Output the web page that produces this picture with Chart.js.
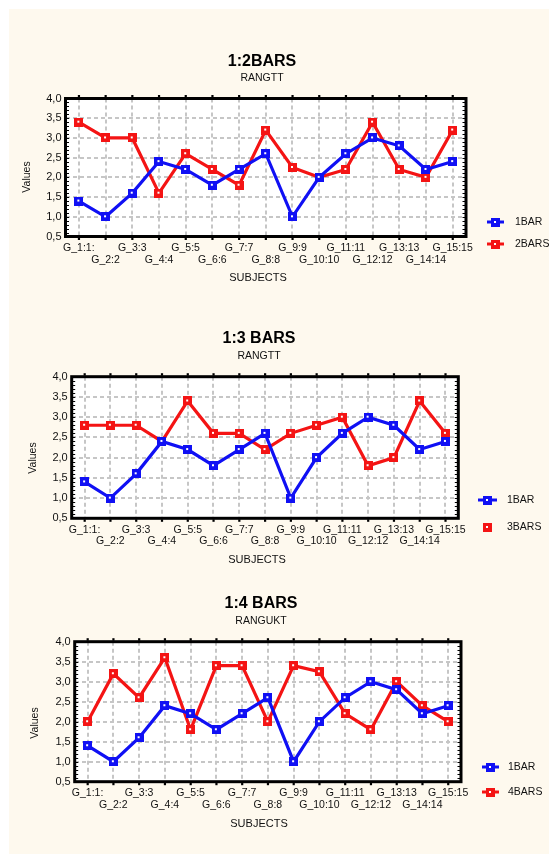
<!DOCTYPE html>
<html>
<head>
<meta charset="utf-8">
<title>Rangs par sujet</title>
<script src="https://cdn.jsdelivr.net/npm/chart.js@4/dist/chart.umd.min.js"></script>
<style>
  html, body { margin: 0; padding: 0; background: #ffffff; }
  #page { position: absolute; left: 9px; top: 9px; width: 540px; height: 845px; background: #fef9ee; }
  canvas { position: absolute; left: 0; }
</style>
</head>
<body>
<div id="page"></div>
<canvas id="c1" width="549" height="270" style="top:20px"></canvas>
<canvas id="c2" width="549" height="275" style="top:290px"></canvas>
<canvas id="c3" width="549" height="297" style="top:565px"></canvas>
<script>
// Subjects on the x axis
const subjects = ['G_1:1:', 'G_2:2', 'G_3:3', 'G_4:4', 'G_5:5', 'G_6:6', 'G_7:7', 'G_8:8',
                  'G_9:9', 'G_10:10', 'G_11:11', 'G_12:12', 'G_13:13', 'G_14:14', 'G_15:15'];

// Mean rank per subject for each condition
const oneBar    = [1.4, 1.0, 1.6, 2.4, 2.2, 1.8, 2.2, 2.6, 1.0, 2.0, 2.6, 3.0, 2.8, 2.2, 2.4];
const twoBars   = [3.4, 3.0, 3.0, 1.6, 2.6, 2.2, 1.8, 3.2, 2.25, 2.0, 2.2, 3.4, 2.2, 2.0, 3.2];
const threeBars = [2.8, 2.8, 2.8, 2.4, 3.4, 2.6, 2.6, 2.2, 2.6, 2.8, 3.0, 1.8, 2.0, 3.4, 2.6];
const fourBars  = [2.0, 3.2, 2.6, 3.6, 1.8, 3.4, 3.4, 2.0, 3.4, 3.25, 2.2, 1.8, 3.0, 2.4, 2.0];

// Value axis range and step
const yMin = 0.5;
const yMax = 4.0;
const yStep = 0.5;

const FONT = "'Liberation Sans', Arial, Helvetica, sans-serif";
const BLUE = '#1010f4';
const RED = '#f41414';

// Square marker with a small white centre
function marker(color, size) {
  const c = document.createElement('canvas');
  c.width = size; c.height = size;
  const g = c.getContext('2d');
  g.fillStyle = color;
  g.fillRect(0, 0, size, size);
  g.fillStyle = '#ffffff';
  const h = Math.floor((size - 2) / 2);
  g.fillRect(h, h, 2, 2);
  return c;
}

// Plot background, frame, edge ticks, titles and legend
const decor = {
  id: 'decor',
  beforeDraw(chart) {
    const { ctx, chartArea: a } = chart;
    ctx.save();
    ctx.fillStyle = '#ffffff';
    ctx.fillRect(a.left, a.top, a.right - a.left, a.bottom - a.top);
    ctx.restore();
  },
  afterDraw(chart, args, o) {
    const { ctx, chartArea: a, scales } = chart;
    const dy = o.top;
    ctx.save();

    // minor ticks along the left and right edges
    ctx.strokeStyle = '#000000';
    ctx.lineWidth = 1;
    const ys = scales.y;
    for (let k = 0; k <= Math.round((ys.max - ys.min) * 10); k++) {
      const py = Math.round(ys.getPixelForValue(ys.min + k / 10)) + 0.5;
      ctx.beginPath();
      ctx.moveTo(a.left, py); ctx.lineTo(a.left + 3.5, py);
      ctx.moveTo(a.right, py); ctx.lineTo(a.right - 3.5, py);
      ctx.stroke();
    }

    // frame
    ctx.lineWidth = 3;
    ctx.strokeRect(a.left, a.top, a.right - a.left, a.bottom - a.top);

    // category ticks outside the top and bottom edges
    ctx.fillStyle = '#000000';
    const xs = scales.x;
    xs.ticks.forEach((t, i) => {
      const px = xs.getPixelForTick(i);
      ctx.fillRect(px - 1, a.top - 3.5, 2.2, 2.5);
      ctx.fillRect(px - 1, a.bottom + 1, 2.2, 2.5);
    });

    // titles
    ctx.fillStyle = '#000000';
    ctx.textAlign = 'center';
    ctx.textBaseline = 'middle';
    ctx.font = 'bold 16px ' + FONT;
    ctx.fillText(o.title, o.cx, o.titleY - dy);
    ctx.font = '10.5px ' + FONT;
    ctx.fillStyle = '#111111';
    ctx.fillText(o.subtitle, o.cx, o.subY - dy);

    // axis titles
    ctx.font = '11px ' + FONT;
    ctx.fillText('SUBJECTS', o.subjectsX, o.subjectsY - dy);
    ctx.save();
    ctx.translate(o.valuesX, o.valuesY - dy);
    ctx.rotate(-Math.PI / 2);
    ctx.font = '10.5px ' + FONT;
    ctx.fillText('Values', 0, 0);
    ctx.restore();

    // legend
    ctx.textAlign = 'left';
    ctx.font = '10.5px ' + FONT;
    chart.data.datasets.forEach((ds, i) => {
      const ly = o.legendY[i] - dy;
      const mid = (o.iconX[0] + o.iconX[1]) / 2;
      if (!(o.noLine && o.noLine[i])) {
        ctx.strokeStyle = ds.borderColor;
        ctx.lineWidth = 3;
        ctx.beginPath();
        ctx.moveTo(o.iconX[0], ly);
        ctx.lineTo(o.iconX[1], ly);
        ctx.stroke();
      }
      const m = ds.pointStyle;
      ctx.drawImage(m, Math.round(mid - m.width / 2), Math.round(ly - m.height / 2));
      ctx.fillStyle = '#111111';
      ctx.fillText(ds.label, o.textX, ly + 0.5);
    });

    ctx.restore();
  }
};

function makeChart(id, layout, series) {
  const canvas = document.getElementById(id);
  const W = canvas.width, H = canvas.height;
  const a = layout.area;
  const xAxisH = 30;
  return new Chart(canvas, {
    type: 'line',
    data: {
      labels: subjects,
      datasets: series.map(s => ({
        label: s.label,
        data: s.data,
        borderColor: s.color,
        backgroundColor: s.color,
        borderWidth: 3.2,
        pointStyle: marker(s.color, 9),
        pointRadius: 4.5,
        tension: 0,
        fill: false
      }))
    },
    options: {
      responsive: false,
      animation: false,
      events: [],
      layout: {
        padding: {
          left: 0,
          top: a.t - layout.top,
          right: W - a.r,
          bottom: H - (a.b - layout.top) - xAxisH
        }
      },
      plugins: {
        legend: { display: false },
        title: { display: false },
        tooltip: { enabled: false },
        decor: layout
      },
      scales: {
        x: {
          type: 'category',
          offset: true,
          afterFit(s) { s.height = xAxisH; },
          grid: { color: '#c6c6c6', lineWidth: 2, drawTicks: false, offset: false },
          border: { display: false, dash: [4, 3] },
          ticks: {
            autoSkip: false,
            maxRotation: 0,
            minRotation: 0,
            padding: 6,
            color: '#111111',
            font: { family: FONT, size: 10.5, lineHeight: '11.5px' },
            callback(v, i) {
              const lab = this.getLabelForValue(v);
              return i % 2 === 0 ? lab : ['', lab];
            }
          }
        },
        y: {
          min: yMin,
          max: yMax,
          afterFit(s) { s.width = a.l; },
          grid: { color: '#c6c6c6', lineWidth: 2, drawTicks: false },
          border: { display: false, dash: [4, 3] },
          ticks: {
            stepSize: yStep,
            padding: 4,
            color: '#111111',
            font: { family: FONT, size: 11 },
            callback: v => Number(v).toFixed(1).replace('.', ',')
          }
        }
      }
    },
    plugins: [decor]
  });
}

makeChart('c1', {
  top: 20,
  area: { l: 65.5, t: 98.5, r: 466, b: 236.5 },
  title: '1:2BARS', subtitle: 'RANGTT', cx: 262, titleY: 62, subY: 78,
  valuesX: 27, valuesY: 177, subjectsX: 258, subjectsY: 278,
  legendY: [222, 244], iconX: [487, 504], textX: 515
}, [
  { label: '1BAR', data: oneBar, color: BLUE },
  { label: '2BARS', data: twoBars, color: RED }
]);

makeChart('c2', {
  top: 290,
  area: { l: 71.7, t: 376.7, r: 458.3, b: 518.3 },
  title: '1:3 BARS', subtitle: 'RANGTT', cx: 259, titleY: 339, subY: 356,
  valuesX: 33, valuesY: 458, subjectsX: 257, subjectsY: 560,
  legendY: [500, 527], iconX: [478, 497], textX: 507, noLine: [false, true]
}, [
  { label: '1BAR', data: oneBar, color: BLUE },
  { label: '3BARS', data: threeBars, color: RED }
]);

makeChart('c3', {
  top: 565,
  area: { l: 74.7, t: 641.7, r: 461, b: 781.7 },
  title: '1:4 BARS', subtitle: 'RANGUKT', cx: 261, titleY: 604, subY: 621,
  valuesX: 35, valuesY: 723, subjectsX: 259, subjectsY: 824,
  legendY: [767, 792], iconX: [482, 499], textX: 508
}, [
  { label: '1BAR', data: oneBar, color: BLUE },
  { label: '4BARS', data: fourBars, color: RED }
]);
</script>
</body>
</html>
